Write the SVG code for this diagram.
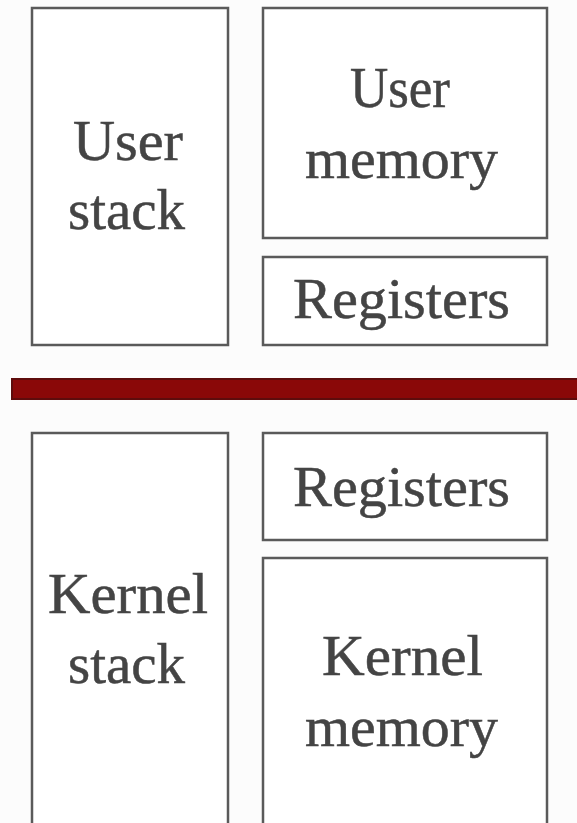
<svg xmlns="http://www.w3.org/2000/svg" width="577" height="823" viewBox="0 0 577 823">
  <style>
    .box { fill: #ffffff; stroke: #5a5a5a; stroke-width: 2.5; }
    .lbl { font-family: "Liberation Serif", "Times New Roman", serif; font-size: 56px; fill: #444444; stroke: #444444; stroke-width: 0.5; }
  </style>
  <rect x="0" y="0" width="577" height="823" fill="#fcfcfc"/>

  <!-- user mode (top half) -->
  <g id="user-stack">
    <rect class="box" x="32" y="8" width="196" height="337"/>
    <text class="lbl" x="73" y="160" textLength="110" lengthAdjust="spacingAndGlyphs">User</text>
    <text class="lbl" x="68" y="229" textLength="117" lengthAdjust="spacingAndGlyphs">stack</text>
  </g>
  <g id="user-memory">
    <rect class="box" x="263" y="8" width="284" height="230"/>
    <text class="lbl" x="350" y="107" textLength="100" lengthAdjust="spacingAndGlyphs">User</text>
    <text class="lbl" x="305" y="178" textLength="193" lengthAdjust="spacingAndGlyphs">memory</text>
  </g>
  <g id="user-registers">
    <rect class="box" x="263" y="257" width="284" height="88"/>
    <text class="lbl" x="293" y="318" textLength="217" lengthAdjust="spacingAndGlyphs">Registers</text>
  </g>

  <!-- mode boundary -->
  <g id="boundary">
    <rect x="12" y="379" width="570" height="20" fill="#8a0808"/>
    <rect x="12" y="379" width="570" height="20" fill="none" stroke="#5e0c0c" stroke-width="2"/>
  </g>

  <!-- kernel mode (bottom half) -->
  <g id="kernel-stack">
    <rect class="box" x="32" y="433" width="196" height="400"/>
    <text class="lbl" x="48" y="613" textLength="160" lengthAdjust="spacingAndGlyphs">Kernel</text>
    <text class="lbl" x="68" y="683" textLength="117" lengthAdjust="spacingAndGlyphs">stack</text>
  </g>
  <g id="kernel-registers">
    <rect class="box" x="263" y="433" width="284" height="107"/>
    <text class="lbl" x="293" y="506" textLength="217" lengthAdjust="spacingAndGlyphs">Registers</text>
  </g>
  <g id="kernel-memory">
    <rect class="box" x="263" y="558" width="284" height="275"/>
    <text class="lbl" x="322" y="675" textLength="161" lengthAdjust="spacingAndGlyphs">Kernel</text>
    <text class="lbl" x="305" y="746" textLength="193" lengthAdjust="spacingAndGlyphs">memory</text>
  </g>
</svg>
